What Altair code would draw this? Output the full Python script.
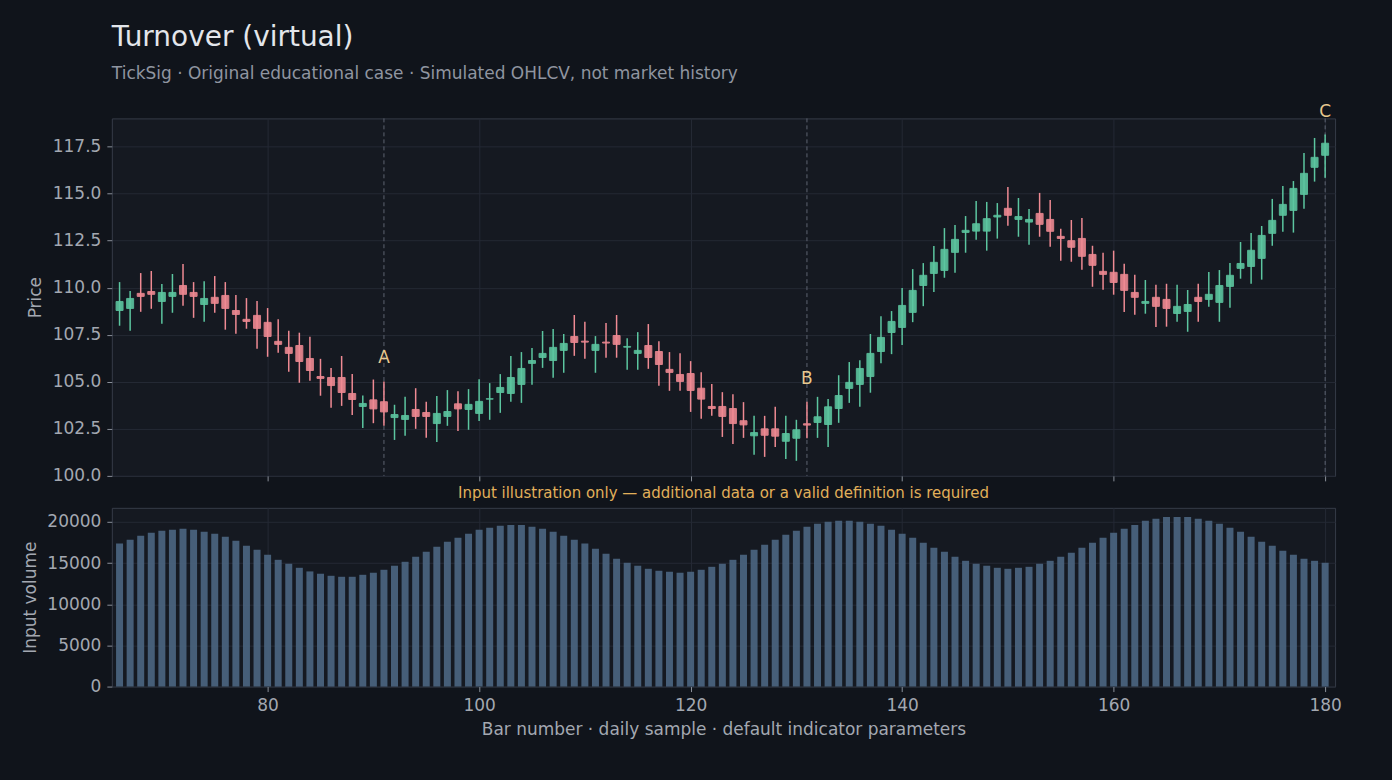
import altair as alt
import numpy as np
import pandas as pd

# ---- simulated OHLCV series (bar numbers 66..180) ----
bars = list(range(66, 181))

opens = [
    108.79, 108.90, 109.70, 109.80, 109.27, 109.54, 110.12, 109.75, 109.11, 109.49,
    109.59, 108.79, 108.32, 108.53, 108.16, 107.15, 106.83, 106.93, 106.24, 105.28,
    105.23, 105.23, 104.38, 103.69, 104.04, 103.94, 103.10, 103.00, 103.53, 103.37,
    102.78, 103.16, 103.83, 103.53, 103.32, 104.08, 104.43, 104.38, 104.86, 105.98,
    106.29, 106.13, 106.67, 107.41, 107.16, 106.67, 107.11, 107.46, 106.84, 106.51,
    106.93, 106.61, 105.66, 105.39, 105.44, 104.66, 103.69, 103.69, 103.58, 102.93,
    102.13, 102.50, 102.50, 101.84, 102.00, 102.77, 102.84, 102.73, 103.58, 104.65,
    104.86, 105.28, 106.61, 107.62, 107.89, 108.69, 110.12, 110.76, 110.92, 111.88,
    112.94, 113.01, 113.01, 113.76, 114.22, 113.63, 113.49, 113.95, 113.63, 112.73,
    112.50, 112.62, 111.77, 110.87, 110.82, 110.71, 109.75, 109.17, 109.49, 109.38,
    108.63, 108.74, 109.49, 109.38, 109.22, 110.07, 111.03, 111.13, 111.56, 112.89,
    113.85, 114.11, 114.96, 116.40, 117.04,
]
highs = [
    110.30, 109.82, 110.78, 110.89, 110.20, 110.73, 111.26, 110.30, 110.35, 110.62,
    110.30, 109.61, 109.45, 109.29, 108.92, 108.33, 107.71, 107.61, 107.39, 106.22,
    105.73, 106.37, 105.41, 104.27, 105.12, 105.02, 103.78, 104.20, 104.66, 103.94,
    104.24, 104.56, 104.50, 104.61, 105.14, 104.93, 105.41, 106.37, 106.58, 106.79,
    107.70, 107.80, 107.54, 108.55, 108.19, 107.43, 108.12, 108.55, 107.32, 107.64,
    108.07, 107.16, 106.58, 106.52, 106.10, 105.51, 104.88, 104.45, 104.34, 103.92,
    103.19, 103.19, 103.67, 103.19, 102.98, 103.94, 104.20, 104.08, 105.35, 106.05,
    106.15, 107.54, 108.49, 108.76, 109.98, 110.99, 111.31, 112.22, 113.17, 113.33,
    113.81, 114.61, 114.56, 114.50, 115.35, 114.77, 114.18, 115.04, 114.66, 113.14,
    113.60, 113.71, 112.23, 111.86, 111.97, 111.28, 110.69, 110.41, 110.16, 110.21,
    110.16, 109.88, 110.21, 110.83, 110.94, 111.31, 112.43, 112.91, 113.28, 114.72,
    115.41, 115.67, 117.16, 117.96, 118.14,
]
lows = [
    107.98, 107.71, 108.72, 108.88, 108.09, 108.67, 109.04, 108.40, 108.19, 108.67,
    107.77, 107.55, 107.82, 106.76, 106.33, 106.54, 105.53, 104.95, 105.05, 104.26,
    103.62, 103.72, 103.24, 102.55, 102.80, 102.66, 101.91, 102.13, 102.50, 102.02,
    101.80, 102.66, 102.39, 102.45, 102.92, 102.98, 103.35, 103.94, 103.88, 104.84,
    105.74, 105.21, 105.48, 106.38, 106.22, 105.48, 106.28, 106.28, 105.64, 105.64,
    105.69, 104.79, 104.52, 104.52, 103.40, 103.03, 103.19, 102.07, 101.70, 102.02,
    101.12, 101.01, 101.54, 100.90, 100.80, 102.00, 102.02, 101.54, 102.82, 103.88,
    103.67, 104.42, 105.99, 106.47, 106.95, 108.17, 109.02, 109.77, 110.53, 110.80,
    111.86, 112.55, 111.97, 112.61, 113.30, 112.71, 112.29, 112.71, 112.18, 111.44,
    111.38, 110.96, 110.05, 109.89, 109.63, 108.71, 108.56, 108.62, 107.91, 107.93,
    108.19, 107.66, 108.19, 108.99, 108.19, 108.94, 110.48, 110.21, 110.43, 112.23,
    112.98, 112.93, 114.20, 115.64, 115.85,
]
closes = [
    109.27, 109.43, 109.54, 109.65, 109.75, 109.75, 109.65, 109.54, 109.43, 109.17,
    108.90, 108.58, 108.21, 107.84, 107.41, 106.99, 106.51, 106.08, 105.60, 105.18,
    104.80, 104.43, 104.06, 103.85, 103.56, 103.40, 103.26, 103.21, 103.16, 103.16,
    103.32, 103.42, 103.56, 103.80, 103.96, 104.10, 104.70, 105.23, 105.71, 106.13,
    106.51, 106.83, 107.04, 107.09, 107.11, 106.99, 107.06, 106.99, 106.88, 106.67,
    106.29, 105.92, 105.50, 105.02, 104.54, 104.08, 103.58, 103.16, 102.78, 102.71,
    102.30, 102.16, 102.11, 102.25, 102.45, 102.70, 103.14, 103.67, 104.27, 104.97,
    105.71, 106.51, 107.36, 108.21, 109.06, 109.86, 110.66, 111.35, 112.04, 112.57,
    113.05, 113.40, 113.67, 113.85, 113.85, 113.78, 113.63, 113.37, 113.00, 112.62,
    112.15, 111.67, 111.19, 110.71, 110.28, 109.86, 109.49, 109.27, 109.01, 108.90,
    109.01, 109.11, 109.27, 109.65, 110.12, 110.66, 111.29, 111.99, 112.78, 113.58,
    114.43, 115.28, 116.08, 116.93, 117.68,
]
volumes = [
    17370, 17820, 18300, 18670, 18910, 19030, 19150, 19030, 18790, 18540,
    18180, 17700, 17090, 16600, 16000, 15390, 14910, 14420, 13980, 13700,
    13450, 13330, 13330, 13570, 13820, 14180, 14670, 15150, 15760, 16360,
    16970, 17570, 18060, 18540, 19030, 19270, 19510, 19630, 19630, 19390,
    19150, 18790, 18300, 17820, 17370, 16730, 16120, 15510, 15030, 14670,
    14300, 14060, 13940, 13820, 13940, 14180, 14540, 14910, 15390, 16000,
    16600, 17210, 17820, 18420, 18910, 19390, 19760, 20000, 20120, 20120,
    20000, 19760, 19510, 19030, 18540, 18060, 17450, 16850, 16360, 15760,
    15270, 14910, 14670, 14420, 14300, 14420, 14540, 14910, 15270, 15760,
    16240, 16850, 17450, 18060, 18670, 19150, 19630, 20120, 20360, 20600,
    20600, 20600, 20360, 20120, 19760, 19270, 18790, 18180, 17570, 17090,
    16480, 16000, 15510, 15270, 15030,
]

marker_bars = [91, 131, 180]
marker_labels = ["A", "B", "C"]

price_ticks = [100.0, 102.5, 105.0, 107.5, 110.0, 112.5, 115.0, 117.5]
volume_ticks = [0, 5000, 10000, 15000, 20000]
bar_ticks = [80, 100, 120, 140, 160, 180]

# ---- palette ----
BG = "#10141b"
PLOT_BG = "#151921"
GRID = "#242934"
FRAME = "#363c48"
TICK = "#8a909a"
LABEL = "#a3a8b1"
UP = "#5cc6a0"
DOWN = "#ef8a93"
VOL = "#4b6682"
GUIDE = "#5d6370"
MARK_TXT = "#e8c98f"
NOTE = "#e2b05a"
FONT = "DejaVu Sans"

W, H_PRICE, H_VOL = 1225, 358, 179

df = pd.DataFrame({
    "bar": bars, "open": opens, "high": highs, "low": lows,
    "close": closes, "volume": volumes,
})
df["dir"] = np.where(df["close"] >= df["open"], "up", "down")

marks = pd.DataFrame({"bar": marker_bars, "label": marker_labels})
marks = marks.merge(df[["bar", "high"]], on="bar")

one = pd.DataFrame({"k": [0]})

x_scale = alt.Scale(domain=[65.27, 180.94], nice=False, zero=False, padding=0)
price_scale = alt.Scale(domain=[100, 119], nice=False, zero=False, padding=0)
vol_scale = alt.Scale(domain=[0, 21700], nice=False, padding=0)
dir_scale = alt.Scale(domain=["up", "down"], range=[UP, DOWN])

x_top = alt.X("bar:Q", scale=x_scale,
              axis=alt.Axis(values=bar_ticks, labels=False, title=None))
x_bottom = alt.X("bar:Q", scale=x_scale,
                 axis=alt.Axis(values=bar_ticks, format="d",
                               title="Bar number · daily sample · default indicator parameters",
                               titleX=W / 2, titleY=43, titleAlign="center",
                               titleBaseline="middle"))

price_axis = alt.Axis(values=price_ticks, format=".1f", title="Price",
                      titleX=-76, titleY=H_PRICE / 2, titleAngle=270,
                      titleAlign="center", titleBaseline="middle")
vol_axis = alt.Axis(values=volume_ticks, format="d", title="Input volume",
                    titleX=-81, titleY=H_VOL / 2, titleAngle=270,
                    titleAlign="center", titleBaseline="middle")

# full-canvas frame so the page is exactly 1392 x 780
canvas = alt.Chart(one).mark_rect(fill=BG, fillOpacity=0).encode(
    x=alt.value(-111), x2=alt.value(1392 - 111),
    y=alt.value(-117), y2=alt.value(780 - 117),
)

title = alt.Chart(one).mark_text(
    text="Turnover (virtual)", font=FONT, fontSize=28, color="#e3e6eb",
    align="left", baseline="alphabetic",
).encode(x=alt.value(0), y=alt.value(45 - 117))

subtitle = alt.Chart(one).mark_text(
    text="TickSig · Original educational case · Simulated OHLCV, not market history",
    font=FONT, fontSize=17, color="#8f95a0", align="left", baseline="alphabetic",
).encode(x=alt.value(0), y=alt.value(78 - 117))

wicks = alt.Chart(df).mark_rule(strokeWidth=1.5).encode(
    x=x_top,
    y=alt.Y("low:Q", scale=price_scale, axis=price_axis),
    y2="high:Q",
    color=alt.Color("dir:N", scale=dir_scale, legend=None),
)

bodies = alt.Chart(df).mark_bar(size=7, strokeWidth=1, opacity=0.9).encode(
    x="bar:Q",
    y="open:Q",
    y2="close:Q",
    color=alt.Color("dir:N", scale=dir_scale, legend=None),
    stroke=alt.Stroke("dir:N", scale=dir_scale, legend=None),
)

guides = alt.Chart(marks).mark_rule(
    color=GUIDE, strokeWidth=1, strokeDash=[4, 3]
).encode(x="bar:Q")

guide_text = alt.Chart(marks).mark_text(
    font=FONT, fontSize=17, color=MARK_TXT, baseline="middle", dy=-23,
).encode(x="bar:Q", y="high:Q", text="label:N")

price_panel = alt.layer(
    canvas, title, subtitle, guides, wicks, bodies, guide_text
).properties(width=W, height=H_PRICE)

vol_bars = alt.Chart(df).mark_bar(size=7, color=VOL, opacity=0.9).encode(
    x=x_bottom,
    y=alt.Y("volume:Q", scale=vol_scale, axis=vol_axis),
)

note = alt.Chart(one).mark_text(
    text="Input illustration only — additional data or a valid definition is required",
    font=FONT, fontSize=15, color=NOTE, align="center", baseline="middle",
).encode(x=alt.value(W / 2), y=alt.value(-15))

volume_panel = alt.layer(vol_bars, note).properties(width=W, height=H_VOL)

chart = (
    alt.vconcat(price_panel, volume_panel, spacing=32, bounds="flush")
    .properties(padding=0, background=BG)
    .configure_view(fill=PLOT_BG, stroke=FRAME, strokeWidth=1)
    .configure_axis(
        domain=False,
        grid=True, gridColor=GRID, gridWidth=1,
        ticks=True, tickColor=TICK, tickSize=5, tickWidth=1,
        labelFont=FONT, labelFontSize=17, labelColor=LABEL, labelPadding=6,
        titleFont=FONT, titleFontSize=17, titleColor=LABEL, titleFontWeight="normal",
    )
    .configure_axisX(labelPadding=6)
    .configure_text(font=FONT)
)

chart.save("out.html", embed_options={"renderer": "svg", "actions": False})
